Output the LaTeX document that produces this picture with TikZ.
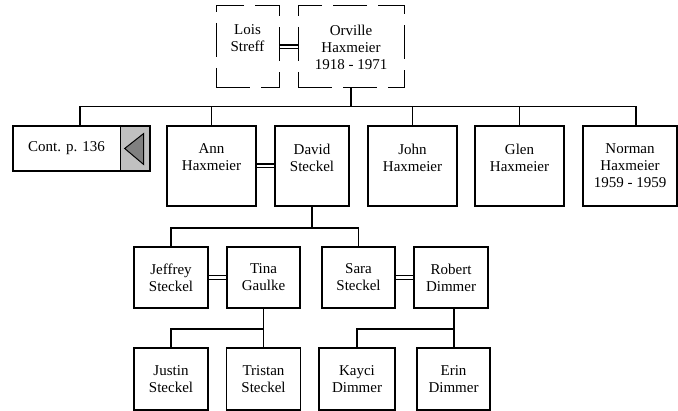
\documentclass[tikz,border=0pt]{standalone}
\usepackage{fontspec}
\setmainfont{Liberation Serif}
\usetikzlibrary{calc}
\definecolor{panelgray}{HTML}{C0C0C0}
\definecolor{arrowgray}{HTML}{808080}
\begin{document}
\begin{tikzpicture}[x=1pt,y=-1pt,
  every node/.style={font=\fontsize{15}{17}\selectfont, align=center, inner sep=0pt},
  pbox/.style={draw, line width=1.6pt, rectangle},
  dbox/.style={draw, line width=1pt, dash pattern=on 34pt off 11pt, rectangle},
  conn/.style={line width=1.6pt},
  marriage/.style={line width=1.1pt, double, double distance=2.8pt},
  row1/.style={minimum height=82pt},
  row2/.style={minimum height=80pt},
  row3/.style={minimum height=61pt},
  row4/.style={minimum height=62pt},
]
\useasboundingbox (0,0) rectangle (678,411);

% generation 1
\node[dbox,row1,minimum width=63pt] (lois) at (247.5,47) {Lois\\Streff\\\phantom{X}};
\node[dbox,row1,minimum width=106pt] (orville) at (351,47) {Orville\\Haxmeier\\1918 - 1971};
\draw[marriage] (lois.east) -- (orville.west);

% generation 2
\node[minimum width=107pt, minimum height=45pt] (cont) at (66.5,148.5) {Cont. p. 136};
\node[draw, line width=1pt, fill=panelgray, anchor=west, minimum width=29pt, minimum height=45pt] (contarrow) at (cont.east) {};
\draw[line width=2pt] (cont.north west) rectangle (contarrow.south east);
\draw[line width=1pt, fill=arrowgray] ($(contarrow.center)+(-10.5,0)$) -- ($(contarrow.center)+(8.5,-15)$) -- ($(contarrow.center)+(8.5,16)$) -- cycle;

\node[pbox,row2,minimum width=89pt] (ann) at (211.5,166) {Ann\\Haxmeier\\\phantom{X}};
\node[pbox,row2,minimum width=74pt] (david) at (312,166) {David\\Steckel\\\phantom{X}};
\node[pbox,row2,minimum width=89pt] (john) at (412.5,166) {John\\Haxmeier\\\phantom{X}};
\node[pbox,row2,minimum width=89pt] (glen) at (519.5,166) {Glen\\Haxmeier\\\phantom{X}};
\node[pbox,row2,minimum width=94pt] (norman) at (630,166) {Norman\\Haxmeier\\1959 - 1959};
\draw[marriage] (ann.east) -- (david.west);

% generation 3
\node[pbox,row3,minimum width=74pt] (jeffrey) at (171,277.5) {Jeffrey\\Steckel};
\node[pbox,row3,minimum width=73pt] (tina) at (263.5,277.5) {Tina\\Gaulke};
\node[pbox,row3,minimum width=73pt] (sara) at (358.5,277.5) {Sara\\Steckel};
\node[pbox,row3,minimum width=74pt] (robert) at (451,277.5) {Robert\\Dimmer};
\draw[marriage] (jeffrey.east) -- (tina.west);
\draw[marriage] (sara.east) -- (robert.west);

% generation 4
\node[pbox,row4,minimum width=74pt] (justin) at (171,379) {Justin\\Steckel};
\node[pbox,row4,minimum width=74pt] (tristan) at (263.5,379) {Tristan\\Steckel};
\node[pbox,row4,minimum width=76pt] (kayci) at (357,379) {Kayci\\Dimmer};
\node[pbox,row4,minimum width=73pt] (erin) at (453.5,379) {Erin\\Dimmer};

% connectors gen 1 -> 2
\coordinate (b1) at (0,106.5);
\coordinate (contdrop) at ([xshift=13.5pt]cont.north);
\coordinate (normandrop) at ([xshift=6pt]norman.north);
\draw[conn] (orville.south) -- (orville.south |- b1);
\draw[conn] (contdrop) |- (normandrop |- b1) -- (normandrop);
\foreach \n in {ann,john,glen} {\draw[conn] (\n.north) -- (\n.north |- b1);}

% connectors gen 2 -> 3
\coordinate (b2) at (0,228);
\draw[conn] (david.south) -- (david.south |- b2);
\draw[conn] (jeffrey.north) |- (sara.north |- b2) -- (sara.north);

% connectors gen 3 -> 4
\coordinate (b3) at (0,329);
\draw[conn] (tina.south) -- (tristan.north);
\draw[conn] (justin.north) |- (tina.south |- b3);
\coordinate (robertdrop) at ([xshift=3pt]robert.south);
\draw[conn] (robertdrop) -- (robertdrop |- erin.north);
\draw[conn] (kayci.north) |- (robertdrop |- b3);
\end{tikzpicture}
\end{document}
